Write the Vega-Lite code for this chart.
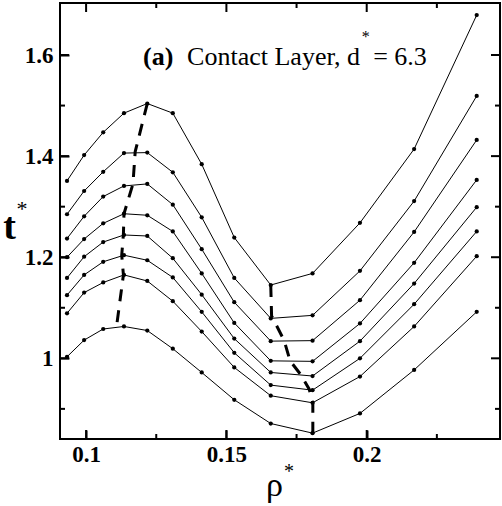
{
  "$schema": "https://vega.github.io/schema/vega-lite/v6.json",
  "width": 440,
  "height": 436,
  "autosize": {"type": "none"},
  "padding": {"left": 60, "top": 3, "right": 2, "bottom": 67},
  "background": "white",
  "config": {
    "view": {"stroke": "black", "strokeWidth": 2},
    "axis": {
      "grid": false,
      "domain": false,
      "labelFont": "Liberation Serif",
      "labelFontSize": 23,
      "labelFontWeight": "bold",
      "labelColor": "black",
      "titleFont": "Liberation Serif",
      "titleColor": "black"
    }
  },
  "datasets": {
    "curves": [
      {"curve": 1, "rho": 0.0932, "t": 1.351}, {"curve": 1, "rho": 0.0993, "t": 1.402}, {"curve": 1, "rho": 0.1061, "t": 1.447}, {"curve": 1, "rho": 0.1135, "t": 1.485}, {"curve": 1, "rho": 0.1218, "t": 1.504}, {"curve": 1, "rho": 0.1309, "t": 1.485}, {"curve": 1, "rho": 0.1412, "t": 1.384}, {"curve": 1, "rho": 0.1528, "t": 1.239}, {"curve": 1, "rho": 0.1658, "t": 1.145}, {"curve": 1, "rho": 0.1807, "t": 1.168}, {"curve": 1, "rho": 0.1976, "t": 1.268}, {"curve": 1, "rho": 0.2169, "t": 1.414}, {"curve": 1, "rho": 0.2392, "t": 1.679},
      {"curve": 2, "rho": 0.0932, "t": 1.285}, {"curve": 2, "rho": 0.0993, "t": 1.331}, {"curve": 2, "rho": 0.1061, "t": 1.369}, {"curve": 2, "rho": 0.1135, "t": 1.406}, {"curve": 2, "rho": 0.1218, "t": 1.407}, {"curve": 2, "rho": 0.1309, "t": 1.368}, {"curve": 2, "rho": 0.1412, "t": 1.279}, {"curve": 2, "rho": 0.1528, "t": 1.159}, {"curve": 2, "rho": 0.1658, "t": 1.079}, {"curve": 2, "rho": 0.1807, "t": 1.085}, {"curve": 2, "rho": 0.1976, "t": 1.173}, {"curve": 2, "rho": 0.2169, "t": 1.311}, {"curve": 2, "rho": 0.2392, "t": 1.519},
      {"curve": 3, "rho": 0.0932, "t": 1.237}, {"curve": 3, "rho": 0.0993, "t": 1.281}, {"curve": 3, "rho": 0.1061, "t": 1.320}, {"curve": 3, "rho": 0.1135, "t": 1.341}, {"curve": 3, "rho": 0.1218, "t": 1.345}, {"curve": 3, "rho": 0.1309, "t": 1.304}, {"curve": 3, "rho": 0.1412, "t": 1.216}, {"curve": 3, "rho": 0.1528, "t": 1.111}, {"curve": 3, "rho": 0.1658, "t": 1.034}, {"curve": 3, "rho": 0.1807, "t": 1.035}, {"curve": 3, "rho": 0.1976, "t": 1.115}, {"curve": 3, "rho": 0.2169, "t": 1.250}, {"curve": 3, "rho": 0.2392, "t": 1.432},
      {"curve": 4, "rho": 0.0932, "t": 1.200}, {"curve": 4, "rho": 0.0993, "t": 1.236}, {"curve": 4, "rho": 0.1061, "t": 1.267}, {"curve": 4, "rho": 0.1135, "t": 1.286}, {"curve": 4, "rho": 0.1218, "t": 1.283}, {"curve": 4, "rho": 0.1309, "t": 1.251}, {"curve": 4, "rho": 0.1412, "t": 1.168}, {"curve": 4, "rho": 0.1528, "t": 1.070}, {"curve": 4, "rho": 0.1658, "t": 0.995}, {"curve": 4, "rho": 0.1807, "t": 0.994}, {"curve": 4, "rho": 0.1976, "t": 1.069}, {"curve": 4, "rho": 0.2169, "t": 1.189}, {"curve": 4, "rho": 0.2392, "t": 1.353},
      {"curve": 5, "rho": 0.0932, "t": 1.159}, {"curve": 5, "rho": 0.0993, "t": 1.201}, {"curve": 5, "rho": 0.1061, "t": 1.230}, {"curve": 5, "rho": 0.1135, "t": 1.244}, {"curve": 5, "rho": 0.1218, "t": 1.242}, {"curve": 5, "rho": 0.1309, "t": 1.198}, {"curve": 5, "rho": 0.1412, "t": 1.126}, {"curve": 5, "rho": 0.1528, "t": 1.039}, {"curve": 5, "rho": 0.1658, "t": 0.972}, {"curve": 5, "rho": 0.1807, "t": 0.965}, {"curve": 5, "rho": 0.1976, "t": 1.034}, {"curve": 5, "rho": 0.2169, "t": 1.148}, {"curve": 5, "rho": 0.2392, "t": 1.299},
      {"curve": 6, "rho": 0.0932, "t": 1.125}, {"curve": 6, "rho": 0.0993, "t": 1.165}, {"curve": 6, "rho": 0.1061, "t": 1.191}, {"curve": 6, "rho": 0.1135, "t": 1.204}, {"curve": 6, "rho": 0.1218, "t": 1.194}, {"curve": 6, "rho": 0.1309, "t": 1.160}, {"curve": 6, "rho": 0.1412, "t": 1.092}, {"curve": 6, "rho": 0.1528, "t": 1.011}, {"curve": 6, "rho": 0.1658, "t": 0.947}, {"curve": 6, "rho": 0.1807, "t": 0.937}, {"curve": 6, "rho": 0.1976, "t": 1.000}, {"curve": 6, "rho": 0.2169, "t": 1.107}, {"curve": 6, "rho": 0.2392, "t": 1.251},
      {"curve": 7, "rho": 0.0932, "t": 1.089}, {"curve": 7, "rho": 0.0993, "t": 1.130}, {"curve": 7, "rho": 0.1061, "t": 1.150}, {"curve": 7, "rho": 0.1135, "t": 1.165}, {"curve": 7, "rho": 0.1218, "t": 1.153}, {"curve": 7, "rho": 0.1309, "t": 1.113}, {"curve": 7, "rho": 0.1412, "t": 1.053}, {"curve": 7, "rho": 0.1528, "t": 0.982}, {"curve": 7, "rho": 0.1658, "t": 0.926}, {"curve": 7, "rho": 0.1807, "t": 0.912}, {"curve": 7, "rho": 0.1976, "t": 0.964}, {"curve": 7, "rho": 0.2169, "t": 1.063}, {"curve": 7, "rho": 0.2392, "t": 1.202},
      {"curve": 8, "rho": 0.0932, "t": 1.003}, {"curve": 8, "rho": 0.0993, "t": 1.036}, {"curve": 8, "rho": 0.1061, "t": 1.058}, {"curve": 8, "rho": 0.1135, "t": 1.063}, {"curve": 8, "rho": 0.1218, "t": 1.055}, {"curve": 8, "rho": 0.1309, "t": 1.019}, {"curve": 8, "rho": 0.1412, "t": 0.972}, {"curve": 8, "rho": 0.1528, "t": 0.918}, {"curve": 8, "rho": 0.1658, "t": 0.871}, {"curve": 8, "rho": 0.1807, "t": 0.852}, {"curve": 8, "rho": 0.1976, "t": 0.891}, {"curve": 8, "rho": 0.2169, "t": 0.977}, {"curve": 8, "rho": 0.2392, "t": 1.092}
    ],
    "maxima": [
      {"k": 1, "rho": 0.1218, "t": 1.504}, {"k": 2, "rho": 0.1175, "t": 1.409}, {"k": 3, "rho": 0.1167, "t": 1.345}, {"k": 4, "rho": 0.1135, "t": 1.286}, {"k": 5, "rho": 0.1133, "t": 1.246}, {"k": 6, "rho": 0.1127, "t": 1.204}, {"k": 7, "rho": 0.1133, "t": 1.165}, {"k": 8, "rho": 0.1109, "t": 1.065}
    ],
    "minima": [
      {"k": 1, "rho": 0.1658, "t": 1.145}, {"k": 2, "rho": 0.1661, "t": 1.084}, {"k": 3, "rho": 0.1706, "t": 1.035}, {"k": 4, "rho": 0.1727, "t": 0.995}, {"k": 5, "rho": 0.1766, "t": 0.967}, {"k": 6, "rho": 0.1795, "t": 0.939}, {"k": 7, "rho": 0.1808, "t": 0.912}, {"k": 8, "rho": 0.1808, "t": 0.852}
    ],
    "xmajor": [{"v": 0.1}, {"v": 0.15}, {"v": 0.2}],
    "xminor": [{"v": 0.125}, {"v": 0.175}, {"v": 0.225}],
    "ymajor": [{"v": 1.0}, {"v": 1.2}, {"v": 1.4}, {"v": 1.6}],
    "yminor": [{"v": 0.9}, {"v": 1.1}, {"v": 1.3}, {"v": 1.5}],
    "one": [{}]
  },
  "resolve": {"axis": {"x": "independent", "y": "independent"}},
  "layer": [
    {
      "data": {"name": "curves"},
      "mark": {"type": "line", "color": "black", "strokeWidth": 1},
      "encoding": {
        "x": {"field": "rho", "type": "quantitative",
          "scale": {"domain": [0.0907, 0.2475], "nice": false, "zero": false},
          "axis": {"orient": "bottom", "values": [0.1, 0.15, 0.2], "format": "~g", "ticks": true, "tickColor": "#000000", "tickWidth": 2, "offset": -9, "tickSize": 9, "labelPadding": 4,
            "title": "ρ", "titleFontSize": 34, "titleFontWeight": "normal", "titleX": 214, "titleY": 65, "titleAlign": "center", "titleBaseline": "alphabetic"}},
        "y": {"field": "t", "type": "quantitative",
          "scale": {"domain": [0.8404, 1.7029], "nice": false, "zero": false},
          "axis": {"orient": "left", "values": [1, 1.2, 1.4, 1.6], "format": "~g", "ticks": true, "tickColor": "#000000", "tickWidth": 2, "offset": -9, "tickSize": 9, "labelPadding": 7,
            "title": "t", "titleAngle": 0, "titleFontSize": 38, "titleFontWeight": "bold", "titleX": -60, "titleY": 235, "titleAlign": "center", "titleBaseline": "alphabetic"}},
        "detail": {"field": "curve", "type": "nominal"}
      }
    },
    {
      "data": {"name": "curves"},
      "mark": {"type": "circle", "color": "black", "size": 18, "opacity": 1},
      "encoding": {
        "x": {"field": "rho", "type": "quantitative", "axis": null},
        "y": {"field": "t", "type": "quantitative", "axis": null}
      }
    },
    {
      "data": {"name": "maxima"},
      "mark": {"type": "line", "color": "black", "strokeWidth": 3, "strokeDash": [12, 9]},
      "encoding": {
        "x": {"field": "rho", "type": "quantitative", "axis": null},
        "y": {"field": "t", "type": "quantitative", "axis": null},
        "order": {"field": "k", "type": "quantitative"}
      }
    },
    {
      "data": {"name": "minima"},
      "mark": {"type": "line", "color": "black", "strokeWidth": 3, "strokeDash": [12, 9]},
      "encoding": {
        "x": {"field": "rho", "type": "quantitative", "axis": null},
        "y": {"field": "t", "type": "quantitative", "axis": null},
        "order": {"field": "k", "type": "quantitative"}
      }
    },
    {
      "data": {"name": "xmajor"},
      "mark": {"type": "tick", "orient": "vertical", "color": "black", "size": 18, "thickness": 2, "opacity": 1, "clip": true},
      "encoding": {
        "x": {"field": "v", "type": "quantitative", "axis": null},
        "y": {"datum": 0.8404, "type": "quantitative", "axis": null}
      }
    },
    {
      "data": {"name": "xmajor"},
      "mark": {"type": "tick", "orient": "vertical", "color": "black", "size": 18, "thickness": 2, "opacity": 1, "clip": true},
      "encoding": {
        "x": {"field": "v", "type": "quantitative", "axis": null},
        "y": {"datum": 1.7029, "type": "quantitative", "axis": null}
      }
    },
    {
      "data": {"name": "xminor"},
      "mark": {"type": "tick", "orient": "vertical", "color": "black", "size": 10, "thickness": 2, "opacity": 1, "clip": true},
      "encoding": {
        "x": {"field": "v", "type": "quantitative", "axis": null},
        "y": {"datum": 0.8404, "type": "quantitative", "axis": null}
      }
    },
    {
      "data": {"name": "xminor"},
      "mark": {"type": "tick", "orient": "vertical", "color": "black", "size": 10, "thickness": 2, "opacity": 1, "clip": true},
      "encoding": {
        "x": {"field": "v", "type": "quantitative", "axis": null},
        "y": {"datum": 1.7029, "type": "quantitative", "axis": null}
      }
    },
    {
      "data": {"name": "ymajor"},
      "mark": {"type": "tick", "orient": "horizontal", "color": "black", "size": 18, "thickness": 2, "opacity": 1, "clip": true},
      "encoding": {
        "y": {"field": "v", "type": "quantitative", "axis": null},
        "x": {"datum": 0.0907, "type": "quantitative", "axis": null}
      }
    },
    {
      "data": {"name": "ymajor"},
      "mark": {"type": "tick", "orient": "horizontal", "color": "black", "size": 18, "thickness": 2, "opacity": 1, "clip": true},
      "encoding": {
        "y": {"field": "v", "type": "quantitative", "axis": null},
        "x": {"datum": 0.2475, "type": "quantitative", "axis": null}
      }
    },
    {
      "data": {"name": "yminor"},
      "mark": {"type": "tick", "orient": "horizontal", "color": "black", "size": 10, "thickness": 2, "opacity": 1, "clip": true},
      "encoding": {
        "y": {"field": "v", "type": "quantitative", "axis": null},
        "x": {"datum": 0.0907, "type": "quantitative", "axis": null}
      }
    },
    {
      "data": {"name": "yminor"},
      "mark": {"type": "tick", "orient": "horizontal", "color": "black", "size": 10, "thickness": 2, "opacity": 1, "clip": true},
      "encoding": {
        "y": {"field": "v", "type": "quantitative", "axis": null},
        "x": {"datum": 0.2475, "type": "quantitative", "axis": null}
      }
    },
    {
      "data": {"name": "one"},
      "mark": {"type": "text", "text": "(a)", "font": "Liberation Serif", "fontSize": 26, "fontWeight": "bold", "align": "left", "baseline": "alphabetic", "color": "black"},
      "encoding": {
        "x": {"datum": 0.1203, "type": "quantitative", "axis": null},
        "y": {"datum": 1.5802, "type": "quantitative", "axis": null}
      }
    },
    {
      "data": {"name": "one"},
      "mark": {"type": "text", "text": "Contact Layer, d", "font": "Liberation Serif", "fontSize": 26, "align": "left", "baseline": "alphabetic", "color": "black"},
      "encoding": {
        "x": {"datum": 0.1360, "type": "quantitative", "axis": null},
        "y": {"datum": 1.5802, "type": "quantitative", "axis": null}
      }
    },
    {
      "data": {"name": "one"},
      "mark": {"type": "text", "text": "*", "font": "Liberation Serif", "fontSize": 16, "align": "center", "baseline": "middle", "color": "black"},
      "encoding": {
        "x": {"datum": 0.1997, "type": "quantitative", "axis": null},
        "y": {"datum": 1.6360, "type": "quantitative", "axis": null}
      }
    },
    {
      "data": {"name": "one"},
      "mark": {"type": "text", "text": "= 6.3", "font": "Liberation Serif", "fontSize": 26, "align": "left", "baseline": "alphabetic", "color": "black"},
      "encoding": {
        "x": {"datum": 0.2023, "type": "quantitative", "axis": null},
        "y": {"datum": 1.5802, "type": "quantitative", "axis": null}
      }
    },
    {
      "data": {"name": "one"},
      "mark": {"type": "text", "text": "*", "font": "Liberation Serif", "fontSize": 22, "align": "center", "baseline": "middle", "color": "black"},
      "encoding": {
        "x": {"datum": 0.0772, "type": "quantitative", "axis": null},
        "y": {"datum": 1.2953, "type": "quantitative", "axis": null}
      }
    },
    {
      "data": {"name": "one"},
      "mark": {"type": "text", "text": "*", "font": "Liberation Serif", "fontSize": 20, "align": "center", "baseline": "middle", "color": "black"},
      "encoding": {
        "x": {"datum": 0.1723, "type": "quantitative", "axis": null},
        "y": {"datum": 0.7751, "type": "quantitative", "axis": null}
      }
    }
  ]
}
